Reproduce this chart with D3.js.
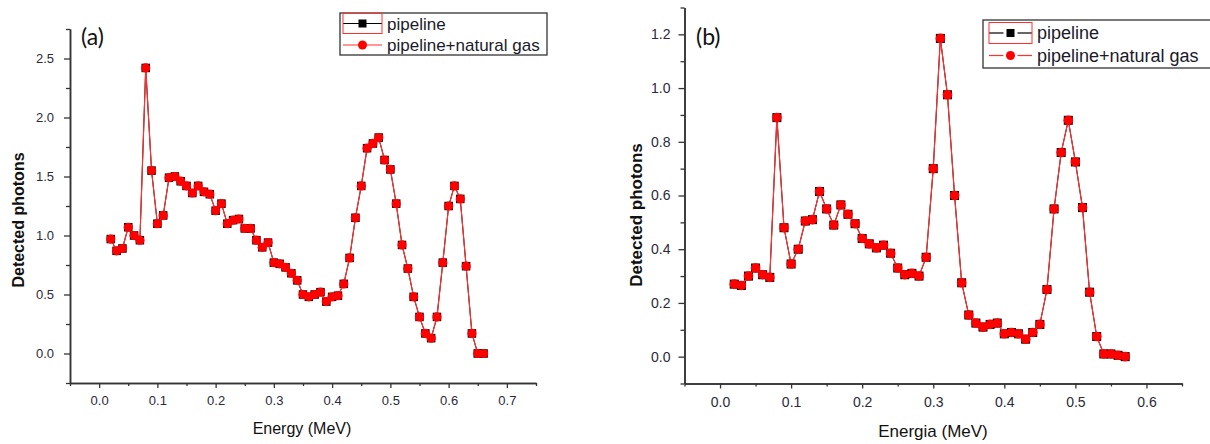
<!DOCTYPE html>
<html>
<head>
<meta charset="utf-8">
<script src="https://cdn.jsdelivr.net/npm/d3@7"></script>
<style>
  body { margin: 0; background: #fff; }
  svg { display: block; font-family: "Liberation Sans", Arial, sans-serif; }
</style>
</head>
<body>
<div class="svg-container"></div>
<script>
// ---- data ----
const energyA = [0.02, 0.03, 0.04, 0.05, 0.06, 0.07, 0.08, 0.09, 0.10, 0.11, 0.12, 0.13, 0.14, 0.15, 0.16, 0.17,
  0.18, 0.19, 0.20, 0.21, 0.22, 0.23, 0.24, 0.25, 0.26, 0.27, 0.28, 0.29, 0.30, 0.31, 0.32, 0.33, 0.34, 0.35,
  0.36, 0.37, 0.38, 0.39, 0.40, 0.41, 0.42, 0.43, 0.44, 0.45, 0.46, 0.47, 0.48, 0.49, 0.50, 0.51, 0.52, 0.53,
  0.54, 0.55, 0.56, 0.57, 0.58, 0.59, 0.60, 0.61, 0.62, 0.63, 0.64, 0.65, 0.66];
const pipelineA = [0.97, 0.87, 0.89, 1.07, 1.00, 0.96, 2.42, 1.55, 1.10, 1.17, 1.49, 1.50, 1.46, 1.42, 1.36, 1.42,
  1.37, 1.35, 1.21, 1.27, 1.10, 1.13, 1.14, 1.06, 1.06, 0.96, 0.90, 0.94, 0.77, 0.76, 0.73, 0.68, 0.62, 0.50,
  0.48, 0.50, 0.52, 0.44, 0.48, 0.49, 0.59, 0.81, 1.15, 1.42, 1.74, 1.78, 1.83, 1.64, 1.56, 1.27, 0.92, 0.72,
  0.48, 0.31, 0.17, 0.13, 0.31, 0.77, 1.25, 1.42, 1.31, 0.74, 0.17, 0.00, 0.00];
const gasA = [0.97, 0.87, 0.89, 1.07, 1.00, 0.96, 2.42, 1.55, 1.10, 1.17, 1.49, 1.50, 1.46, 1.42, 1.36, 1.42,
  1.37, 1.35, 1.21, 1.27, 1.10, 1.13, 1.14, 1.06, 1.06, 0.96, 0.90, 0.94, 0.77, 0.76, 0.73, 0.68, 0.62, 0.50,
  0.48, 0.50, 0.52, 0.44, 0.48, 0.49, 0.59, 0.81, 1.15, 1.42, 1.74, 1.78, 1.83, 1.64, 1.56, 1.27, 0.92, 0.72,
  0.48, 0.31, 0.17, 0.13, 0.31, 0.77, 1.25, 1.42, 1.31, 0.74, 0.17, 0.00, 0.00];

const energyB = [0.02, 0.03, 0.04, 0.05, 0.06, 0.07, 0.08, 0.09, 0.10, 0.11, 0.12, 0.13, 0.14, 0.15, 0.16, 0.17,
  0.18, 0.19, 0.20, 0.21, 0.22, 0.23, 0.24, 0.25, 0.26, 0.27, 0.28, 0.29, 0.30, 0.31, 0.32, 0.33, 0.34, 0.35,
  0.36, 0.37, 0.38, 0.39, 0.40, 0.41, 0.42, 0.43, 0.44, 0.45, 0.46, 0.47, 0.48, 0.49, 0.50, 0.51, 0.52, 0.53,
  0.54, 0.55, 0.56, 0.57];
const pipelineB = [0.27, 0.265, 0.30, 0.33, 0.305, 0.295, 0.89, 0.48, 0.345, 0.40, 0.505, 0.51, 0.615, 0.55, 0.49, 0.565,
  0.53, 0.495, 0.44, 0.42, 0.405, 0.415, 0.385, 0.33, 0.305, 0.31, 0.30, 0.37, 0.70, 1.185, 0.975, 0.60, 0.275, 0.155,
  0.125, 0.11, 0.12, 0.125, 0.085, 0.09, 0.085, 0.065, 0.09, 0.12, 0.25, 0.55, 0.76, 0.88, 0.725, 0.555, 0.24, 0.075,
  0.01, 0.01, 0.005, 0.00];
const gasB = [0.27, 0.265, 0.30, 0.33, 0.305, 0.295, 0.89, 0.48, 0.345, 0.40, 0.505, 0.51, 0.615, 0.55, 0.49, 0.565,
  0.53, 0.495, 0.44, 0.42, 0.405, 0.415, 0.385, 0.33, 0.305, 0.31, 0.30, 0.37, 0.70, 1.185, 0.975, 0.60, 0.275, 0.155,
  0.125, 0.11, 0.12, 0.125, 0.085, 0.09, 0.085, 0.065, 0.09, 0.12, 0.25, 0.55, 0.76, 0.88, 0.725, 0.555, 0.24, 0.075,
  0.01, 0.01, 0.005, 0.00];

// tick values
const xMajorA = [0.0, 0.1, 0.2, 0.3, 0.4, 0.5, 0.6, 0.7];
const xMinorA = [-0.05, 0.05, 0.15, 0.25, 0.35, 0.45, 0.55, 0.65, 0.75];
const yMajorA = [0.0, 0.5, 1.0, 1.5, 2.0, 2.5];
const yMinorA = [-0.25, 0.25, 0.75, 1.25, 1.75, 2.25, 2.75];
const xMajorB = [0.0, 0.1, 0.2, 0.3, 0.4, 0.5, 0.6];
const xMinorB = [-0.05, 0.05, 0.15, 0.25, 0.35, 0.45, 0.55, 0.65];
const yMajorB = [0.0, 0.2, 0.4, 0.6, 0.8, 1.0, 1.2];
const yMinorB = [-0.1, 0.1, 0.3, 0.5, 0.7, 0.9, 1.1, 1.3];

const seriesNames = ['pipeline', 'pipeline+natural gas'];

const width = 1210;
const height = 444;
const axisColor = '#333';
const tickTextColor = '#2a2a3a';

const svg = d3.select('.svg-container')
  .append('svg')
  .attr('width', width)
  .attr('height', height);

svg.append('rect')
  .attr('width', width)
  .attr('height', height)
  .style('fill', '#fff');

const drawPanel = (p) => {
  const x = d3.scaleLinear().domain(p.xDomain).range(p.xRange);
  const y = d3.scaleLinear().domain(p.yDomain).range(p.yRange);
  const g = svg.append('g');

  // minor ticks first, then major axes on top
  g.append('g')
    .attr('transform', `translate(0,${p.yRange[0]})`)
    .call(d3.axisBottom(x).tickValues(p.xMinor).tickFormat('').tickSize(3).tickSizeOuter(0));
  g.append('g')
    .attr('transform', `translate(${p.xRange[0]},0)`)
    .call(d3.axisLeft(y).tickValues(p.yMinor).tickFormat('').tickSize(4).tickSizeOuter(0));

  const xAxis = g.append('g')
    .attr('transform', `translate(0,${p.yRange[0]})`)
    .call(d3.axisBottom(x).tickValues(p.xMajor).tickFormat(d3.format('.1f')).tickSize(5).tickSizeOuter(0).tickPadding(p.xPad));
  const yAxis = g.append('g')
    .attr('transform', `translate(${p.xRange[0]},0)`)
    .call(d3.axisLeft(y).tickValues(p.yMajor).tickFormat(d3.format('.1f')).tickSize(6).tickSizeOuter(0).tickPadding(p.yPad));

  g.selectAll('.domain').attr('stroke', axisColor).attr('stroke-width', 1.5);
  g.selectAll('.tick line').attr('stroke', axisColor).attr('stroke-width', 1.3);
  [xAxis, yAxis].forEach(a => a.selectAll('text')
    .style('font-family', '"Liberation Sans", Arial, sans-serif')
    .style('font-size', p.tickFont + 'px')
    .attr('fill', tickTextColor));

  // axis titles
  g.append('text')
    .attr('x', p.xTitlePos[0])
    .attr('y', p.xTitlePos[1])
    .attr('text-anchor', 'middle')
    .style('font-size', p.titleFont + 'px')
    .attr('fill', '#111')
    .text(p.xTitle);
  g.append('text')
    .attr('transform', `translate(${p.yTitlePos[0]},${p.yTitlePos[1]}) rotate(-90)`)
    .attr('text-anchor', 'middle')
    .style('font-size', p.titleFont + 'px')
    .style('font-weight', 'bold')
    .attr('fill', '#111')
    .text('Detected photons');

  // panel letter
  g.append('text')
    .attr('x', p.letterPos[0])
    .attr('y', p.letterPos[1])
    .style('font-family', 'Lato, "Open Sans", sans-serif')
    .style('font-size', '23px')
    .attr('fill', '#111')
    .text(p.letter);

  // series: black squares (pipeline) under red circles (pipeline+natural gas)
  const line = d3.line().x(d => x(d[0])).y(d => y(d[1]));
  const dataP = p.energy.map((e, i) => [e, p.pipeline[i]]);
  const dataG = p.energy.map((e, i) => [e, p.gas[i]]);

  g.append('path').datum(dataP)
    .attr('d', line).attr('fill', 'none').attr('stroke', '#000').attr('stroke-width', 1);
  g.append('g').selectAll('rect').data(dataP).enter().append('rect')
    .attr('x', d => x(d[0]) - p.sq / 2)
    .attr('y', d => y(d[1]) - p.sq / 2)
    .attr('width', p.sq).attr('height', p.sq)
    .style('fill', '#000');

  g.append('path').datum(dataG)
    .attr('d', line).attr('fill', 'none').attr('stroke', '#ff3030').attr('stroke-width', 1.2);
  g.append('g').selectAll('circle').data(dataG).enter().append('circle')
    .attr('cx', d => x(d[0]))
    .attr('cy', d => y(d[1]))
    .attr('r', p.r)
    .style('fill', '#ff0000');

  // legend
  const L = p.legend;
  g.append('rect')
    .attr('x', L.x).attr('y', L.y).attr('width', L.w).attr('height', L.h)
    .attr('fill', '#fff').attr('stroke', '#333').attr('stroke-width', 1.3);
  seriesNames.forEach((name, i) => {
    const cy = L.rows[i];
    const col = i === 0 ? '#000' : '#ff3030';
    const mid = (L.sx0 + L.sx1) / 2;
    if (L.gap > 0) {
      g.append('line').attr('x1', L.sx0).attr('x2', mid - L.gap).attr('y1', cy).attr('y2', cy)
        .attr('stroke', col).attr('stroke-width', 1.2);
      g.append('line').attr('x1', mid + L.gap).attr('x2', L.sx1).attr('y1', cy).attr('y2', cy)
        .attr('stroke', col).attr('stroke-width', 1.2);
    } else {
      g.append('line').attr('x1', L.sx0).attr('x2', L.sx1).attr('y1', cy).attr('y2', cy)
        .attr('stroke', col).attr('stroke-width', 1.2);
    }
    if (i === 0) {
      g.append('rect').attr('x', mid - 4).attr('y', cy - 4).attr('width', 8).attr('height', 8).style('fill', '#000');
      // selection frame around the first symbol
      g.append('rect').attr('x', L.sx0).attr('y', L.sel[0]).attr('width', L.sx1 - L.sx0).attr('height', L.sel[1] - L.sel[0])
        .attr('fill', 'none').attr('stroke', '#ff3030').attr('stroke-width', 1);
    } else {
      g.append('circle').attr('cx', mid).attr('cy', cy).attr('r', 4.5).style('fill', '#ff0000');
    }
    g.append('text')
      .attr('x', L.tx).attr('y', cy + L.font * 0.36)
      .style('font-size', L.font + 'px')
      .attr('fill', '#1a1a2a')
      .text(name);
  });
};

drawPanel({
  energy: energyA, pipeline: pipelineA, gas: gasA,
  xDomain: [-0.05, 0.75], xRange: [70, 536],
  yDomain: [-0.25, 2.75], yRange: [383, 29],
  xMajor: xMajorA, xMinor: xMinorA, yMajor: yMajorA, yMinor: yMinorA,
  xPad: 8, yPad: 10, tickFont: 13, titleFont: 16,
  xTitle: 'Energy (MeV)', xTitlePos: [302, 434], yTitlePos: [24, 220],
  letter: '(a)', letterPos: [81, 45],
  r: 4.6, sq: 8.5,
  legend: { x: 340, y: 13, w: 207, h: 42, rows: [23.5, 45], sx0: 343, sx1: 382, gap: 0,
    tx: 387, font: 17, sel: [13.5, 33.5] }
});

drawPanel({
  energy: energyB, pipeline: pipelineB, gas: gasB,
  xDomain: [-0.05, 0.65], xRange: [684.5, 1182],
  yDomain: [-0.1, 1.3], yRange: [383.5, 7.5],
  xMajor: xMajorB, xMinor: xMinorB, yMajor: yMajorB, yMinor: yMinorB,
  xPad: 9, yPad: 8, tickFont: 14, titleFont: 17,
  xTitle: 'Energia (MeV)', xTitlePos: [933, 437], yTitlePos: [642, 215],
  letter: '(b)', letterPos: [696, 45],
  r: 4.8, sq: 9,
  legend: { x: 983, y: 20, w: 240, h: 48, rows: [33, 55.5], sx0: 989, sx1: 1032, gap: 7,
    tx: 1037, font: 18, sel: [22.5, 43.5] }
});
</script>
</body>
</html>
